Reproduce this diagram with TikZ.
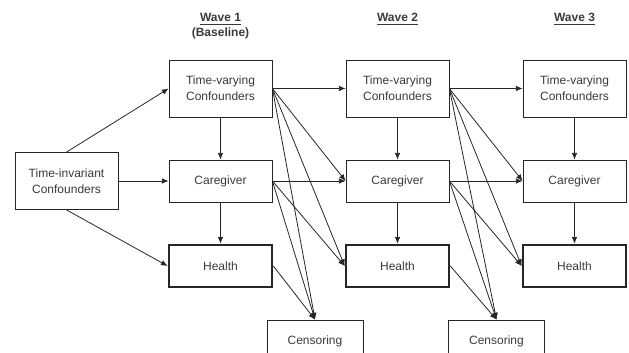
\documentclass[tikz,border=0pt]{standalone}
\usepackage{fontspec}
\setmainfont{Liberation Sans}
\usetikzlibrary{arrows.meta}
\definecolor{ink}{HTML}{262626}
\definecolor{txt}{HTML}{3a3a3a}
\tikzset{
    box/.style={draw=ink,line width=0.6pt,minimum width=77.25pt,text=txt,align=center,
      font=\fontsize{9}{12}\selectfont,inner sep=0pt},
    tall/.style={box,minimum height=42.75pt},
    flat/.style={box,minimum height=31.5pt},
    heavy/.style={flat,line width=2pt},
    arr/.style={draw=ink,line width=0.6pt,-{Latex[length=5pt,width=4.2pt]}},
    wave/.style={font=\fontsize{9}{12}\selectfont\bfseries,text=txt,anchor=base,inner sep=0pt},
  }
\begin{document}
\begin{tikzpicture}[x=0.75pt,y=-0.75pt]
                                    %cadre
                                    \useasboundingbox (0,0) rectangle (629,353);
                                    %titres des vagues
                                    \node[wave] (w1) at (220.5,22) {\underline{Wave 1}};
                                    \node[wave] (b1) at (220.5,37) {(Baseline)};
                                    \node[wave] (w2) at (397.5,22) {\underline{Wave 2}};
                                    \node[wave] (w3) at (574.5,22) {\underline{Wave 3}};
                                    %boites
                                    \node[tall] (ti) at (66.5,181) {Time-invariant\\Confounders};
                                    \node[tall] (tv1) at (220.5,88.5) {Time-varying\\Confounders};
                                    \node[flat] (cg1) at (220.5,181) {Caregiver};
                                    \node[heavy] (h1) at (220.5,266) {Health};
                                    \node[tall] (tv2) at (397.5,88.5) {Time-varying\\Confounders};
                                    \node[flat] (cg2) at (397.5,181) {Caregiver};
                                    \node[heavy] (h2) at (397.5,266) {Health};
                                    \node[tall] (tv3) at (574.5,88.5) {Time-varying\\Confounders};
                                    \node[flat] (cg3) at (574.5,181) {Caregiver};
                                    \node[heavy] (h3) at (574.5,266) {Health};
                                    \node[flat,minimum width=72pt] (c1) at (315,341) {Censoring};
                                    \node[flat,minimum width=72pt] (c2) at (496.5,341) {Censoring};
                                    %confondants fixes
                                    \draw[arr] (ti.north) -- (tv1.west);
                                    \draw[arr] (ti.east) -- (cg1.west);
                                    \draw[arr] (ti.south) -- (h1.west);
                                    %dans chaque vague
                                    \draw[arr] (tv1) -- (cg1);
                                    \draw[arr] (cg1) -- (h1);
                                    \draw[arr] (tv2) -- (cg2);
                                    \draw[arr] (cg2) -- (h2);
                                    \draw[arr] (tv3) -- (cg3);
                                    \draw[arr] (cg3) -- (h3);
                                    %vague 1 vers vague 2
                                    \draw[arr] (tv1.east) -- (tv2.west);
                                    \draw[arr] (tv1.east) -- (cg2.west);
                                    \draw[arr] (tv1.east) -- (h2.west);
                                    \draw[arr] (tv1.east) -- (c1.north);
                                    \draw[arr] (cg1.east) -- (cg2.west);
                                    \draw[arr] (cg1.east) -- (h2.west);
                                    \draw[arr] (cg1.east) -- (c1.north);
                                    \draw[arr] (h1.east) -- (c1.north);
                                    %vague 2 vers vague 3
                                    \draw[arr] (tv2.east) -- (tv3.west);
                                    \draw[arr] (tv2.east) -- (cg3.west);
                                    \draw[arr] (tv2.east) -- (h3.west);
                                    \draw[arr] (tv2.east) -- (c2.north);
                                    \draw[arr] (cg2.east) -- (cg3.west);
                                    \draw[arr] (cg2.east) -- (h3.west);
                                    \draw[arr] (cg2.east) -- (c2.north);
                                    \draw[arr] (h2.east) -- (c2.north);
\end{tikzpicture}
\end{document}
